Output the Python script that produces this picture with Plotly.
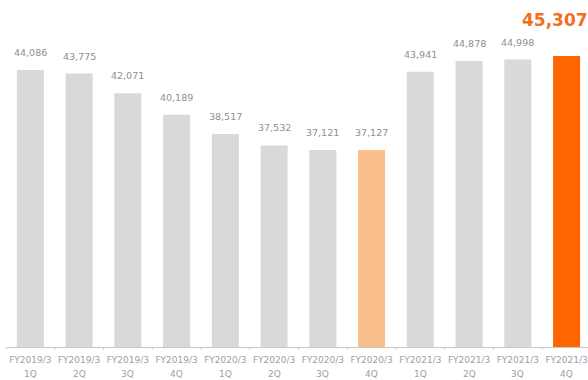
import plotly.graph_objects as go

# Quarterly figures, FY2019/3 1Q through FY2021/3 4Q
periods = ["FY2019/3", "FY2019/3", "FY2019/3", "FY2019/3",
           "FY2020/3", "FY2020/3", "FY2020/3", "FY2020/3",
           "FY2021/3", "FY2021/3", "FY2021/3", "FY2021/3"]
quarters = ["1Q", "2Q", "3Q", "4Q"] * 3
values = [44086, 43775, 42071, 40189, 38517, 37532, 37121, 37127,
          43941, 44878, 44998, 45307]

GREY = "#d9d9d9"
LIGHT_ORANGE = "#f9bf8c"
ORANGE = "#ff6600"

n = len(values)
idx = list(range(n))
colors = [GREY] * n
colors[7] = LIGHT_ORANGE
colors[-1] = ORANGE

fig = go.Figure(go.Bar(
    x=idx,
    y=values,
    marker=dict(color=colors, line=dict(width=0)),
    hoverinfo="skip",
))

annotations = []
# value labels above each bar; the latest quarter is highlighted
for i, v in enumerate(values):
    last = i == n - 1
    annotations.append(dict(
        x=i, y=v, xref="x", yref="y",
        text=f"{v:,}",
        showarrow=False,
        yanchor="bottom",
        yshift=24 if last else 10,
        xshift=-12 if last else 0,
        font=dict(family="DejaVu Sans", size=17 if last else 9.5,
                  color="#f07020" if last else "#8f8f8f",
                  weight="bold" if last else "normal"),
    ))
# quarter names on the second line under the period labels
for i, q in enumerate(quarters):
    annotations.append(dict(
        x=i, y=0, xref="x", yref="paper",
        text=q, showarrow=False,
        yanchor="middle", yshift=-27,
        font=dict(family="DejaVu Sans", size=9, color="#a0a0a0"),
    ))

fig.update_layout(
    width=588, height=380,
    margin=dict(l=6, r=0, t=2, b=33),
    paper_bgcolor="white", plot_bgcolor="white",
    bargap=0.446,
    showlegend=False,
    annotations=annotations,
    xaxis=dict(
        range=[-0.5, 11.44],
        tickmode="array", tickvals=idx, ticktext=periods,
        tickfont=dict(family="DejaVu Sans", size=9, color="#a0a0a0"),
        showline=True, linecolor="#c8c8c8", linewidth=1,
        ticks="", showgrid=False, zeroline=False,
        ticklabelstandoff=4,
    ),
    yaxis=dict(range=[20000, 50000], visible=False, showgrid=False),
)

# small separators between categories along the axis
for k in range(n + 1):
    fig.add_shape(type="line", xref="x", yref="paper",
                  x0=k - 0.5, x1=k - 0.5, y0=0, y1=-0.008,
                  line=dict(color="#c8c8c8", width=1))

fig.write_html("out.html")
